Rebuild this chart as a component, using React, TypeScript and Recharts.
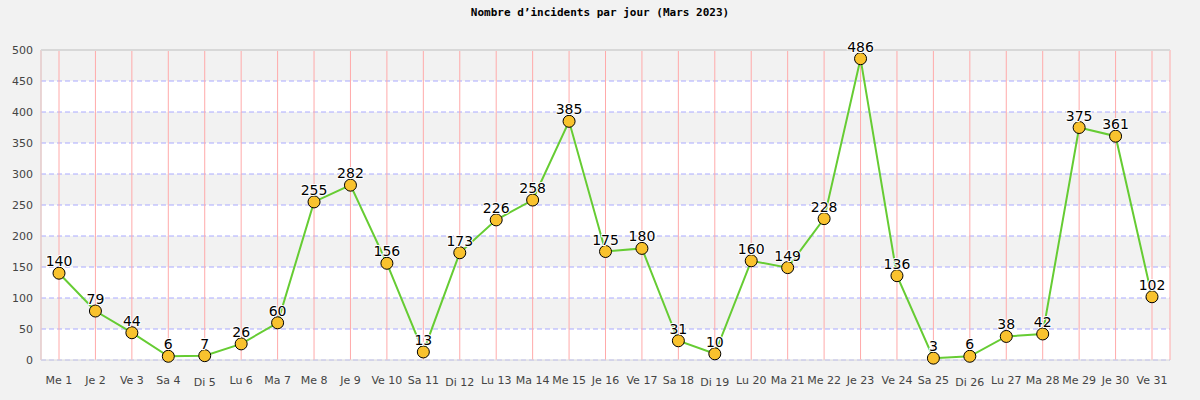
import { ComposedChart, Line, XAxis, YAxis, CartesianGrid, LabelList, ReferenceLine } from 'recharts';

const days = [
  'Me 1', 'Je 2', 'Ve 3', 'Sa 4', 'Di 5', 'Lu 6', 'Ma 7', 'Me 8', 'Je 9', 'Ve 10',
  'Sa 11', 'Di 12', 'Lu 13', 'Ma 14', 'Me 15', 'Je 16', 'Ve 17', 'Sa 18', 'Di 19', 'Lu 20',
  'Ma 21', 'Me 22', 'Je 23', 'Ve 24', 'Sa 25', 'Di 26', 'Lu 27', 'Ma 28', 'Me 29', 'Je 30', 'Ve 31',
];

const incidents = [
  140, 79, 44, 6, 7, 26, 60, 255, 282, 156,
  13, 173, 226, 258, 385, 175, 180, 31, 10, 160,
  149, 228, 486, 136, 3, 6, 38, 42, 375, 361, 102,
];

const yTicks = [0, 50, 100, 150, 200, 250, 300, 350, 400, 450, 500];

const data = days.map((day, i) => ({ day, value: incidents[i] }));

const DayTick = (props: any) => {
  const { x, y, payload } = props;
  // les dimanches sont un peu plus bas dans l'original
  const extra = payload.value.startsWith('Di') ? 2 : 0;
  return (
    <text x={x} y={y + 8 + extra} dy="0.71em" textAnchor="middle" fill="#444" fontSize={11} fontFamily="DejaVu Sans">
      {payload.value}
    </text>
  );
};

const App = () => {
  return (
    <div style={{ position: 'absolute', left: 0, top: 0, width: 1200, height: 400, background: '#f2f2f2' }}>
      <div
        style={{
          position: 'absolute',
          top: 6,
          width: 1200,
          textAlign: 'center',
          fontFamily: 'DejaVu Sans Mono',
          fontWeight: 'bold',
          fontSize: 11,
          color: '#000',
        }}
      >
        Nombre d’incidents par jour (Mars 2023)
      </div>
      <ComposedChart width={1200} height={400} data={data} margin={{ top: 50, right: 30, left: 0, bottom: 0 }}>
        {/* bandes + lignes horizontales pointillées */}
        <CartesianGrid
          vertical={false}
          stroke="#aaaaff"
          strokeDasharray="5 3"
          horizontalFill={['#f2f2f2', '#ffffff']}
          fill="none"
        />
        {/* lignes verticales */}
        <CartesianGrid horizontal={false} stroke="#ffaaaa" fill="none" />
        <XAxis
          dataKey="day"
          height={40}
          interval={0}
          padding={{ left: 18, right: 18 }}
          tick={<DayTick />}
          tickLine={false}
          axisLine={{ stroke: '#d8d8d8' }}
        />
        <YAxis
          width={41}
          domain={[0, 500]}
          ticks={yTicks}
          interval={0}
          tickLine={false}
          axisLine={{ stroke: '#d8d8d8' }}
          tick={{ fill: '#444', fontSize: 11, fontFamily: 'DejaVu Sans' }}
        />
        <YAxis yAxisId="right" orientation="right" width={0} tick={false} tickLine={false} axisLine={{ stroke: '#d8d8d8' }} />
        <ReferenceLine y={500} stroke="#d8d8d8" strokeWidth={2} />
        <Line
          type="linear"
          dataKey="value"
          stroke="#66cc33"
          strokeWidth={2}
          dot={{ r: 6, fill: '#f9c22e', stroke: '#000', strokeWidth: 1 }}
          activeDot={false}
          isAnimationActive={false}
        >
          <LabelList
            dataKey="value"
            position="top"
            offset={7}
            fill="#000"
            fontSize={14}
            fontFamily="DejaVu Sans"
            stroke="#ffffff"
            strokeWidth={2}
            paintOrder="stroke"
          />
        </Line>
      </ComposedChart>
    </div>
  );
};

export default App;
